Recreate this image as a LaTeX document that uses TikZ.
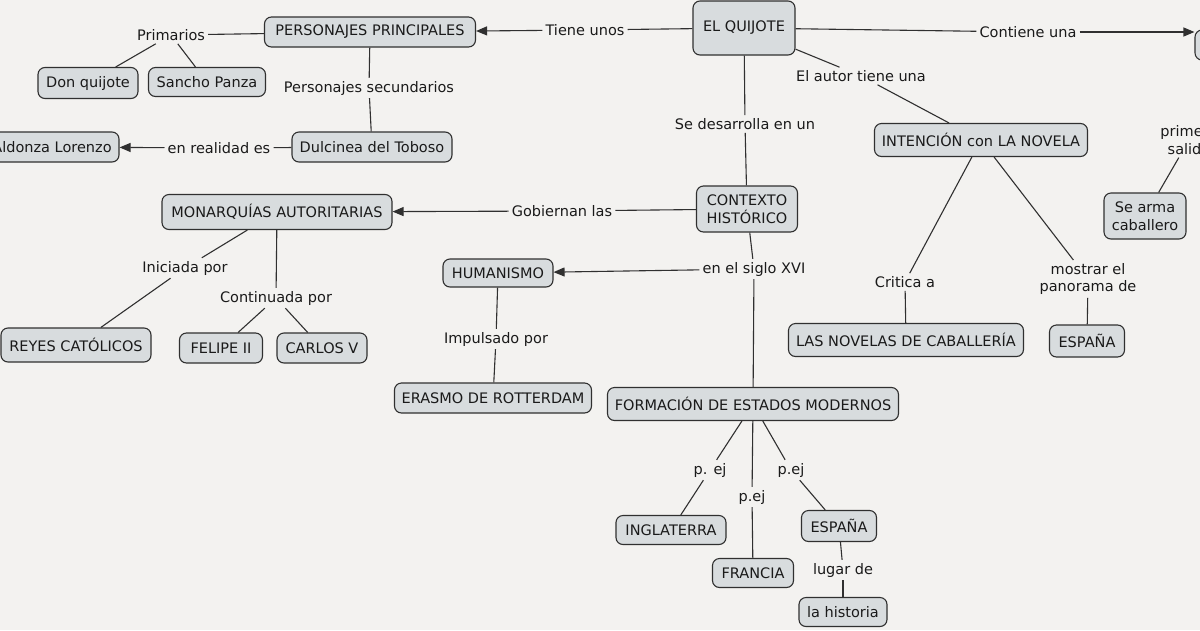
\documentclass[tikz,border=0pt]{standalone}
\usepackage{fontspec}
\setmainfont{DejaVu Sans}
\usetikzlibrary{arrows.meta}
\definecolor{bg}{HTML}{F3F2F0}
\definecolor{boxfill}{HTML}{D8DCDE}
\definecolor{ln}{HTML}{303030}
\definecolor{txt}{HTML}{1A1A1A}
\begin{document}
\begin{tikzpicture}[x=1pt,y=-1pt,
  box/.style={draw=ln, fill=boxfill, rounded corners=7pt, line width=1.1pt, inner sep=0pt,
    align=center, text=txt, font=\fontsize{14.5}{17.5}\selectfont},
  lbl/.style={inner sep=3pt, text=txt, align=center, font=\fontsize{14.5}{17.5}\selectfont},
  con/.style={draw=ln, line width=1.1pt},
  arr/.style={con, -{Triangle[length=11pt,width=9pt]}}]
\useasboundingbox (0,0) rectangle (1200,630);
\fill[bg] (0,0) rectangle (1200,630);

% boxes
\node[box, minimum width=102pt, minimum height=54pt] (q) at (744,28) {EL QUIJOTE};
\node[box, minimum width=211pt, minimum height=30pt] (pp) at (370,32) {PERSONAJES PRINCIPALES};
\node[box, minimum width=100pt, minimum height=31pt] (dq) at (88,83) {Don quijote};
\node[box, minimum width=117pt, minimum height=29pt] (sp) at (207,82) {Sancho Panza};
\node[box, minimum width=160pt, minimum height=30pt] (dt) at (372,147) {Dulcinea del Toboso};
\node[box, minimum width=134pt, minimum height=30pt] (al) at (52,147) {Aldonza Lorenzo};
\node[box, minimum width=130pt, minimum height=30pt] (top) at (1260,45) {};
\node[box, minimum width=213pt, minimum height=33pt] (int) at (981,140) {INTENCIÓN con LA NOVELA};
\node[box, minimum width=101pt, minimum height=46pt] (ctx) at (747,209) {CONTEXTO\\HISTÓRICO};
\node[box, minimum width=230pt, minimum height=35pt] (mon) at (277,212) {MONARQUÍAS AUTORITARIAS};
\node[box, minimum width=150pt, minimum height=34pt] (rc) at (76,345) {REYES CATÓLICOS};
\node[box, minimum width=83pt, minimum height=30pt] (fe) at (221,348) {FELIPE II};
\node[box, minimum width=90pt, minimum height=30pt] (cv) at (322,348) {CARLOS V};
\node[box, minimum width=110pt, minimum height=28pt] (hum) at (498,273) {HUMANISMO};
\node[box, minimum width=197pt, minimum height=30pt] (er) at (493,398) {ERASMO DE ROTTERDAM};
\node[box, minimum width=291pt, minimum height=33pt] (fem) at (753,404) {FORMACIÓN DE ESTADOS MODERNOS};
\node[box, minimum width=110pt, minimum height=29pt] (ing) at (671,530) {INGLATERRA};
\node[box, minimum width=81pt, minimum height=29pt] (fr) at (753,573) {FRANCIA};
\node[box, minimum width=75pt, minimum height=31pt] (esp) at (839,526) {ESPAÑA};
\node[box, minimum width=88pt, minimum height=29pt] (his) at (843,612) {la historia};
\node[box, minimum width=235pt, minimum height=33pt] (nov) at (906,340) {LAS NOVELAS DE CABALLERÍA};
\node[box, minimum width=75pt, minimum height=32pt] (esp2) at (1087,341) {ESPAÑA};
\node[box, minimum width=82pt, minimum height=46pt] (arm) at (1145,216) {Se arma\\caballero};

% labels
\node[lbl] (l1) at (585,30) {Tiene unos};
\node[lbl] (l2) at (171,35) {Primarios};
\node[lbl] (l3) at (369,88) {Personajes secundarios};
\node[lbl] (l4) at (219,148) {en realidad es};
\node[lbl] (l5) at (1028,32) {Contiene una};
\node[lbl] (l6) at (861,76) {El autor tiene una};
\node[lbl] (l7) at (745,124) {Se desarrolla en un};
\node[lbl] (l8) at (562,211) {Gobiernan las};
\node[lbl] (l9) at (185,268) {Iniciada por};
\node[lbl] (l10) at (276,298) {Continuada por};
\node[lbl] (l11) at (754,269) {en el siglo XVI};
\node[lbl] (l12) at (496,339) {Impulsado por};
\node[lbl] (l13) at (710,470) {p. ej};
\node[lbl] (l14) at (752,497) {p.ej};
\node[lbl] (l15) at (791,470) {p.ej};
\node[lbl] (l16) at (843,570) {lugar de};
\node[lbl] (l17) at (905,282) {Critica a};
\node[lbl] (l18) at (1088,279) {mostrar el\\panorama de};
\node[lbl] (l19) at (1189,140) {primera\\salida};

% connectors
\draw[con] (q) -- (l1);
\draw[arr] (l1) -- (pp);
\draw[con] (pp) -- (l2);
\draw[con] (l2) -- (dq);
\draw[con] (l2) -- (sp);
\draw[con] (pp) -- (l3);
\draw[con] (l3) -- (dt);
\draw[con] (dt) -- (l4);
\draw[arr] (l4) -- (al);
\draw[con] (q) -- (l5);
\draw[arr] (l5) -- (l5 -| top.west);
\draw[con] (q) -- (l6);
\draw[con] (l6) -- (int);
\draw[con] (q) -- (l7);
\draw[con] (l7) -- (ctx);
\draw[con] (ctx) -- (l8);
\draw[arr] (l8) -- (mon);
\draw[con] (mon) -- (l9);
\draw[con] (l9) -- (rc);
\draw[con] (mon) -- (l10);
\draw[con] (l10) -- (fe);
\draw[con] (l10) -- (cv);
\draw[con] (ctx) -- (l11);
\draw[con] (l11) -- (fem);
\draw[arr] (l11) -- (hum);
\draw[con] (hum) -- (l12);
\draw[con] (l12) -- (er);
\draw[con] (fem) -- (l13);
\draw[con] (l13) -- (ing);
\draw[con] (fem) -- (l14);
\draw[con] (l14) -- (fr);
\draw[con] (fem) -- (l15);
\draw[con] (l15) -- (esp);
\draw[con] (esp) -- (l16);
\draw[con] (l16) -- (his);
\draw[con] (int) -- (l17);
\draw[con] (l17) -- (nov);
\draw[con] (int) -- (l18);
\draw[con] (l18) -- (esp2);
\draw[con] (l19) -- (arm);
\end{tikzpicture}
\end{document}
